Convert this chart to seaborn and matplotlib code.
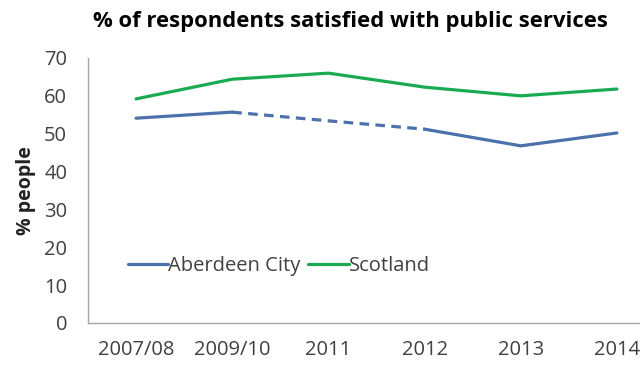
import matplotlib
matplotlib.use("Agg")
import matplotlib.pyplot as plt
import seaborn as sns
import pandas as pd

years = ["2007/08", "2009/10", "2011", "2012", "2013", "2014"]
aberdeen = [54.1, 55.7, 53.4, 51.2, 46.8, 50.2]
scotland = [59.2, 64.4, 66.0, 62.3, 60.0, 61.8]

sns.set_theme(style="white")
plt.rcParams['font.family'] = ['Open Sans', 'DejaVu Sans']

blue = "#4d71ab"
green = "#1aab52"

fig = plt.figure(figsize=(6.4, 3.65), dpi=100)
ax = fig.add_axes([0.1375, 0.1151, 0.8625, 0.726])

x = list(range(len(years)))
df = pd.DataFrame({"x": x, "year": years, "Aberdeen City": aberdeen, "Scotland": scotland})

lw = 2.3
sns.lineplot(x=df["x"][0:2], y=df["Aberdeen City"][0:2], ax=ax, color=blue, lw=lw, label="Aberdeen City")
sns.lineplot(x=df["x"][1:4], y=df["Aberdeen City"][1:4], ax=ax, color=blue, lw=lw, linestyle=(0, (3, 2)), label="_nolegend_")
sns.lineplot(x=df["x"][3:6], y=df["Aberdeen City"][3:6], ax=ax, color=blue, lw=lw, label="_nolegend_")
sns.lineplot(x=df["x"], y=df["Scotland"], ax=ax, color=green, lw=lw, label="Scotland")

ax.set_xlim(-0.5, 5.24)
ax.set_ylim(0, 70)
ax.set_yticks(range(0, 71, 10))
ax.set_xticks(x)
ax.set_xticklabels(years)
ax.tick_params(axis="both", length=0, labelsize=14.5, labelcolor="#404040")
ax.tick_params(axis="y", pad=15)
ax.tick_params(axis="x", pad=12)
ax.set_xlabel("")
ax.set_ylabel("% people", fontsize=14, fontweight="bold", color="#222222", labelpad=6)

for s in ["top", "right"]:
    ax.spines[s].set_visible(False)
for s in ["left", "bottom"]:
    ax.spines[s].set_color("#a6a6a6")
    ax.spines[s].set_linewidth(1)

leg = ax.legend(loc="center left", bbox_to_anchor=(0.072, 0.215), ncol=2, frameon=False,
                fontsize=14.5, handlelength=2.0, handletextpad=0.0, columnspacing=0.4,
                borderaxespad=0, borderpad=0)
for t in leg.get_texts():
    t.set_color("#404040")

fig.text(0.548, 0.94, "% of respondents satisfied with public services", ha="center", va="center",
         fontsize=15.8, fontweight="bold", color="#000000")

fig.savefig("out.png", dpi=100, facecolor="white")
